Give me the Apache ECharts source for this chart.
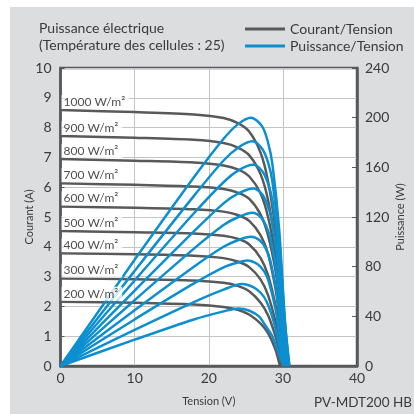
<!DOCTYPE html>
<html>
<head>
<meta charset="utf-8">
<script src="https://cdn.jsdelivr.net/npm/echarts@6/dist/echarts.min.js"></script>
<style>
  html, body { margin: 0; padding: 0; background: #ffffff; width: 414px; height: 414px; overflow: hidden; }
  #chart { position: absolute; left: 10px; top: 7px; width: 404px; height: 407px; background: #dcddde; }
</style>
</head>
<body>
<div id="chart"></div>
<script>
// ---- Data (Tension V, Courant A / Puissance W) ----
const irradianceLabels = ['1000 W/m²', '900 W/m²', '800 W/m²', '700 W/m²', '600 W/m²', '500 W/m²', '400 W/m²', '300 W/m²', '200 W/m²'];
const shortCircuitCurrent = [8.59, 7.72, 6.95, 6.13, 5.35, 4.53, 3.78, 2.94, 2.16];

const iv1000 = [[0,8.59],[10,8.52],[18,8.44],[22,8.32],[24,8.14],[25.5,7.85],[27,7.15],[28,6.2],[29,4.6],[29.7,2.9],[30.4,0]];
const iv900  = [[0,7.72],[10,7.66],[18,7.59],[22,7.48],[24,7.32],[25.5,7.06],[27,6.43],[28,5.57],[29,4.13],[29.7,2.6],[30.35,0]];
const iv800  = [[0,6.95],[10,6.89],[18,6.83],[22,6.73],[24,6.59],[25.5,6.35],[27,5.79],[28,5.0],[29,3.7],[29.65,2.3],[30.3,0]];
const iv700  = [[0,6.13],[10,6.08],[18,6.02],[22,5.94],[24,5.81],[25.5,5.6],[27,5.08],[28,4.38],[29,3.2],[29.6,2.0],[30.2,0]];
const iv600  = [[0,5.35],[10,5.31],[18,5.26],[22,5.18],[24,5.06],[25.5,4.86],[27,4.38],[28,3.76],[29,2.6],[29.5,1.7],[30.1,0]];
const iv500  = [[0,4.53],[10,4.49],[18,4.45],[22,4.37],[24,4.26],[25.5,4.07],[27,3.62],[28,3.05],[29,2.05],[29.5,1.3],[30.0,0]];
const iv400  = [[0,3.78],[10,3.75],[18,3.7],[22,3.62],[24,3.5],[25.5,3.31],[27,2.9],[28,2.38],[29,1.5],[29.4,1.0],[29.9,0]];
const iv300  = [[0,2.94],[10,2.91],[18,2.87],[22,2.79],[24,2.68],[25.5,2.5],[27,2.12],[28,1.7],[29,1.0],[29.4,0.6],[29.8,0]];
const iv200  = [[0,2.16],[10,2.12],[18,2.06],[22,1.98],[24,1.88],[25.5,1.72],[27,1.42],[28,1.1],[29,0.55],[29.6,0]];

const pv1000 = [[0,0],[10,85.5],[18,152],[22,183],[24,195],[25.7,200],[27.2,193],[28,180],[28.6,162],[29.5,110],[30.3,35],[30.9,0]];
const pv900  = [[0,0],[10,76.6],[18,137],[22,165.5],[24,176],[25.9,181],[27.2,175],[28,164],[28.6,148],[29.5,100],[30.3,33],[30.85,0]];
const pv800  = [[0,0],[10,68.9],[18,123],[22,148],[24,157.5],[26,162],[27.2,157],[28,147],[28.6,133],[29.5,90],[30.2,32],[30.8,0]];
const pv700  = [[0,0],[10,60.8],[18,108.5],[22,131],[24,139],[26,143],[27.1,139],[27.9,130],[28.5,117],[29.4,80],[30.1,28],[30.7,0]];
const pv600  = [[0,0],[10,53],[18,94.5],[22,113.5],[24,120],[25.9,123.4],[27,120],[27.8,112],[28.4,101],[29.3,69],[30,25],[30.6,0]];
const pv500  = [[0,0],[10,44.9],[18,80],[22,96],[24,101.5],[25.7,104],[26.9,101],[27.7,94.5],[28.3,85],[29.2,58],[29.9,20],[30.5,0]];
const pv400  = [[0,0],[10,37.5],[18,66.5],[22,79.5],[24,83.5],[25.2,85],[26.6,82],[27.5,76],[28.1,68],[29,46],[29.8,16],[30.4,0]];
const pv300  = [[0,0],[10,29.1],[18,51.5],[22,61.5],[24.5,66],[26,63.5],[27,59],[27.8,52],[28.8,35],[29.7,12],[30.3,0]];
const pv200  = [[0,0],[10,21.2],[18,37.5],[22,44],[24,46.4],[25.5,44.5],[26.8,39.7],[27.7,32],[28.6,23.6],[29.5,9],[30.1,0]];

const xTicks = [0, 10, 20, 30, 40];
const currentTicks = [0, 1, 2, 3, 4, 5, 6, 7, 8, 9, 10];
const powerTicks = [0, 40, 80, 120, 160, 200, 240];

const ivCurves = [iv1000, iv900, iv800, iv700, iv600, iv500, iv400, iv300, iv200];
const pvCurves = [pv1000, pv900, pv800, pv700, pv600, pv500, pv400, pv300, pv200];

// ---- Chart ----
const GRAY = '#58595b';
const BLUE = '#0b8fd0';
const FONT = 'Lato';
const TXT = '#3a3a3a';
const chart = echarts.init(document.getElementById('chart'), null, { renderer: 'canvas' });

const series = [];
ivCurves.forEach(function (d) {
  series.push({
    name: 'Courant/Tension', type: 'line', xAxisIndex: 0, yAxisIndex: 0,
    data: d, smooth: 0.3, symbol: 'none', showSymbol: false, clip: true,
    lineStyle: { color: GRAY, width: 2.5 }, itemStyle: { color: GRAY }, z: 2, silent: true
  });
});
pvCurves.forEach(function (d) {
  series.push({
    name: 'Puissance/Tension', type: 'line', xAxisIndex: 0, yAxisIndex: 1,
    data: d, smooth: 0.3, symbol: 'none', showSymbol: false, clip: true,
    lineStyle: { color: BLUE, width: 2.5 }, itemStyle: { color: BLUE }, z: 3, silent: true
  });
});
series.push({
  name: 'labels', type: 'scatter', xAxisIndex: 0, yAxisIndex: 0, z: 10, silent: true,
  symbolSize: 0,
  data: shortCircuitCurrent.map(function (v, i) {
    return { value: [0, v], name: irradianceLabels[i] };
  }),
  label: {
    show: true, position: 'right', distance: 0, offset: [1, -8],
    formatter: function (p) { return p.name; },
    backgroundColor: '#ffffff', padding: [1, 4, 1, 2],
    fontFamily: FONT, fontSize: 12, color: '#222222'
  }
});

const option = {
  backgroundColor: '#dcddde',
  animation: false,
  textStyle: { fontFamily: FONT },
  title: {
    text: 'Puissance électrique\n(Température des cellules : 25)',
    left: 29, top: 13, padding: 0,
    textStyle: { fontFamily: FONT, fontSize: 14, fontWeight: 'normal', color: TXT, lineHeight: 17 }
  },
  legend: {
    data: ['Courant/Tension', 'Puissance/Tension'],
    orient: 'vertical', left: 235, top: 15, padding: 0,
    icon: 'rect', itemWidth: 40, itemHeight: 3, itemGap: 3,
    textStyle: { fontFamily: FONT, fontSize: 14, color: TXT, lineHeight: 14, padding: [0, 0, 0, 0] },
    selectedMode: false
  },
  grid: {
    left: 50.5, right: 55, top: 61, bottom: 48,
    show: true, backgroundColor: '#ffffff', borderColor: GRAY, borderWidth: 2.5,
    containLabel: false
  },
  xAxis: [{
    type: 'value', min: xTicks[0], max: xTicks[xTicks.length - 1], interval: 10,
    name: 'Tension (V)', nameLocation: 'middle', nameGap: 30, nameMoveOverlap: false,
    nameTextStyle: { fontFamily: FONT, fontSize: 11, color: TXT },
    axisLine: { show: true, lineStyle: { color: GRAY, width: 2.5 } },
    axisTick: { show: false },
    axisLabel: { margin: 5, fontFamily: FONT, fontSize: 14, color: TXT },
    splitLine: { show: true, lineStyle: { color: '#c4c4c4', width: 1 } }
  }],
  yAxis: [{
    type: 'value', min: currentTicks[0], max: currentTicks[currentTicks.length - 1], interval: 1,
    position: 'left',
    name: 'Courant (A)', nameLocation: 'middle', nameGap: 26, nameRotate: 90, nameMoveOverlap: false,
    nameTextStyle: { fontFamily: FONT, fontSize: 11, color: TXT },
    axisLine: { show: true, lineStyle: { color: GRAY, width: 2.5 } },
    axisTick: { show: true, inside: true, length: 4, lineStyle: { color: GRAY, width: 1 } },
    axisLabel: { margin: 9, fontFamily: FONT, fontSize: 14, color: TXT },
    splitLine: { show: true, lineStyle: { color: '#c4c4c4', width: 1 } }
  }, {
    type: 'value', min: powerTicks[0], max: powerTicks[powerTicks.length - 1], interval: 40,
    position: 'right',
    name: 'Puissance (W)', nameLocation: 'middle', nameGap: 38, nameRotate: 90, nameMoveOverlap: false,
    nameTextStyle: { fontFamily: FONT, fontSize: 11, color: TXT },
    axisLine: { show: true, lineStyle: { color: GRAY, width: 2.5 } },
    axisTick: { show: true, inside: true, length: 5, lineStyle: { color: GRAY, width: 1 } },
    axisLabel: { margin: 8, fontFamily: FONT, fontSize: 14, color: TXT },
    splitLine: { show: false }
  }],
  graphic: [{
    type: 'text', right: 2, bottom: 4,
    style: { text: 'PV-MDT200 HB', font: '13.5px Lato', fill: TXT }
  }],
  series: series
};
chart.setOption(option);
</script>
</body>
</html>
